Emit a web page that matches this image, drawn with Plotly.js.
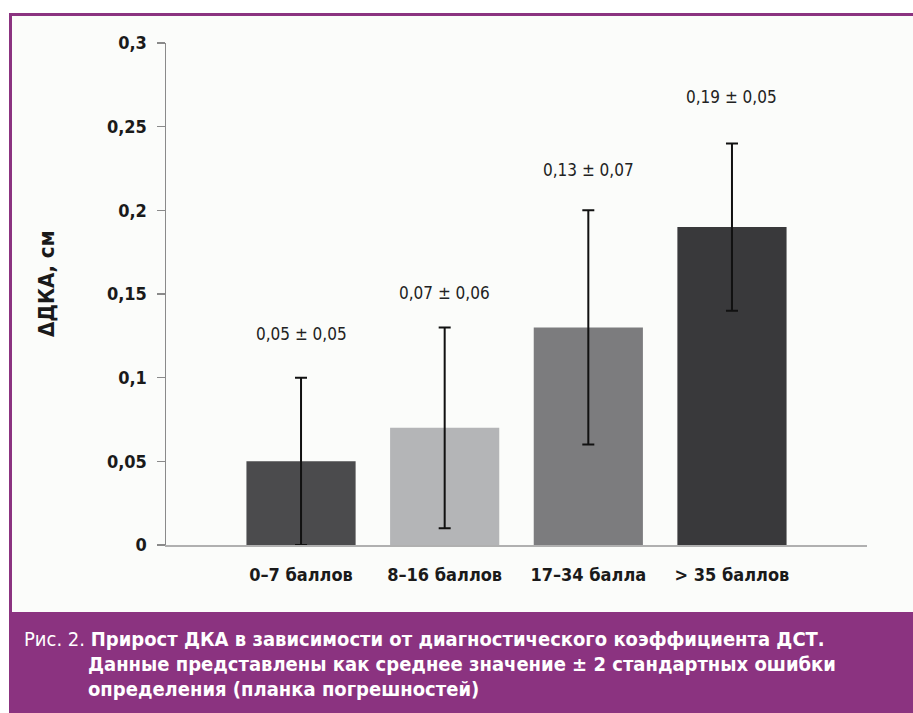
<!DOCTYPE html>
<html>
<head>
<meta charset="utf-8">
<script src="https://cdn.plot.ly/plotly-3.0.1.min.js"></script>
<style>html,body{margin:0;padding:0;background:#fff;}#chart{width:913px;height:713px;}</style>
</head>
<body>
<div id="chart"></div>
<script>
// ---- data ----
const categories = ["0–7 баллов", "8–16 баллов", "17–34 балла", "> 35 баллов"];
const means = [0.05, 0.07, 0.13, 0.19];
const errors = [0.05, 0.06, 0.07, 0.05];
const valueLabels = ["0,05 ± 0,05", "0,07 ± 0,06", "0,13 ± 0,07", "0,19 ± 0,05"];
const yTickVals = [0, 0.05, 0.1, 0.15, 0.2, 0.25, 0.3];
const yTickText = ["0", "0,05", "0,1", "0,15", "0,2", "0,25", "0,3"];
const yTitle = "ΔДКА, см";
const captionLines = [
  "Рис. 2. <b>Прирост ДКА в зависимости от диагностического коэффициента ДСТ.</b>",
  "<b>Данные представлены как среднее значение ± 2 стандартных ошибки</b>",
  "<b>определения (планка погрешностей)</b>"
];

// ---- layout geometry ----
const W = 913, H = 713;
const L = 166, R = 867, T = 43, B = 545;
const pw = R - L, ph = B - T;
const px = v => (v - L) / pw;
const py = v => (B - v) / ph;
const FONT = '"Liberation Sans Narrow", "DejaVu Sans Condensed", Arial, sans-serif';
const purple = '#8b3380';
const barColors = ['#4b4b4d', '#b4b5b7', '#7c7c7e', '#39393b'];
const labelOffsetsPx = [44, 34, 40, 46];

const trace = {
  type: 'bar',
  x: categories,
  y: means,
  marker: {color: barColors, line: {width: 0}},
  error_y: {type: 'data', array: errors, visible: true, color: '#111', thickness: 2, width: 6},
  hoverinfo: 'none'
};

const shapes = [
  {type: 'rect', xref: 'paper', yref: 'paper', x0: px(9), x1: px(915), y0: py(612), y1: py(13),
   fillcolor: '#fbfcfa', line: {width: 0}, layer: 'below'},
  {type: 'rect', xref: 'paper', yref: 'paper', x0: px(10.5), x1: px(915), y0: py(716), y1: py(14.5),
   fillcolor: 'rgba(0,0,0,0)', line: {color: purple, width: 3}, layer: 'below'},
  {type: 'rect', xref: 'paper', yref: 'paper', x0: px(9), x1: px(915), y0: py(716), y1: py(612),
   fillcolor: purple, line: {width: 0}, layer: 'below'}
];

const annotations = [];
means.forEach((m, i) => {
  annotations.push({
    x: categories[i], xref: 'x', yref: 'y', y: m + errors[i],
    yshift: labelOffsetsPx[i], text: valueLabels[i], showarrow: false,
    font: {family: FONT, size: 17, color: '#222'}, xanchor: 'center', yanchor: 'middle'
  });
});
annotations.push({
  xref: 'paper', yref: 'paper', x: px(46), y: py(284), text: '<b>' + yTitle + '</b>',
  textangle: -90, showarrow: false, font: {family: FONT, size: 22, color: '#1a1a1a'},
  xanchor: 'center', yanchor: 'middle'
});
const capX = [22, 86, 86];
const capY = [639, 664, 689];
captionLines.forEach((t, i) => {
  annotations.push({
    xref: 'paper', yref: 'paper', x: px(capX[i]), y: py(capY[i]), text: t,
    showarrow: false, font: {family: FONT, size: 20, color: '#ffffff'},
    xanchor: 'left', yanchor: 'middle', align: 'left'
  });
});

const layout = {
  width: W, height: H,
  margin: {l: L, r: W - R, t: T, b: H - B, pad: 0},
  paper_bgcolor: '#ffffff',
  plot_bgcolor: 'rgba(0,0,0,0)',
  showlegend: false,
  bargap: 0.24,
  font: {family: FONT, color: '#1a1a1a'},
  xaxis: {
    range: [-0.94, 3.94], showgrid: false, zeroline: false,
    showline: true, linecolor: '#b0b0b0', linewidth: 2, ticks: '',
    tickfont: {family: FONT, size: 18, color: '#1a1a1a', weight: 'bold'},
    ticklabelstandoff: 12, fixedrange: true
  },
  yaxis: {
    range: [0, 0.3], showgrid: false, zeroline: false,
    showline: true, linecolor: '#8a8a8a', linewidth: 1.5,
    ticks: 'outside', ticklen: 8, tickcolor: '#8a8a8a', tickwidth: 1.5,
    tickvals: yTickVals, ticktext: yTickText,
    tickfont: {family: FONT, size: 18, color: '#1a1a1a', weight: 'bold'},
    ticklabelstandoff: 6, fixedrange: true
  },
  shapes: shapes,
  annotations: annotations
};

Plotly.newPlot('chart', [trace], layout, {displayModeBar: false, staticPlot: true});
</script>
</body>
</html>
